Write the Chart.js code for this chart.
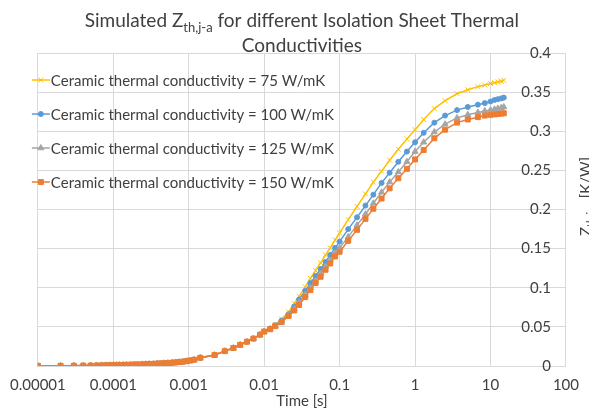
<!DOCTYPE html>
<html>
<head>
<meta charset="utf-8">
<script src="https://cdn.jsdelivr.net/npm/chart.js@4.4.1/dist/chart.umd.min.js"></script>
<style>
  html, body { margin: 0; padding: 0; background: #fff; }
  #wrap { width: 589px; height: 412px; }
</style>
</head>
<body>
<div id="wrap"><canvas id="zthChart" width="589" height="412"></canvas></div>
<script>
// time points up to 10 ms, where all four curves still sit on top of each other
const timeShared = [
  1e-5, 2e-5, 3e-5, 4e-5, 5e-5, 6e-5, 7e-5, 8e-5, 9e-5,
  1e-4, 1.1e-4, 1.2e-4, 1.35e-4, 1.5e-4, 1.7e-4, 1.9e-4, 2.1e-4, 2.4e-4, 2.7e-4,
  3e-4, 3.4e-4, 3.8e-4, 4.2e-4, 4.7e-4, 5.3e-4, 6e-4, 6.7e-4, 7.5e-4, 8.4e-4, 9.4e-4,
  1.05e-3, 1.18e-3, 1.42e-3, 2.2e-3, 3e-3, 3.9e-3, 4.8e-3, 5.9e-3, 7.2e-3, 8.8e-3, 0.01
];
const zthShared = [
  0.0002, 0.0003, 0.0004, 0.0005, 0.0006, 0.0007, 0.0008, 0.0009, 0.0010,
  0.0011, 0.0012, 0.0013, 0.0014, 0.0015, 0.0016, 0.0018, 0.0019, 0.0021, 0.0023,
  0.0025, 0.0027, 0.0030, 0.0032, 0.0035, 0.0038, 0.0042, 0.0046, 0.0050, 0.0055, 0.0062,
  0.0070, 0.0080, 0.0105, 0.014, 0.019, 0.023, 0.027, 0.031, 0.035, 0.040, 0.044
];

// after 10 ms the curves split up by ceramic conductivity
const timeLate = [
  0.012, 0.014, 0.017, 0.021, 0.025, 0.029, 0.035, 0.041, 0.048, 0.056, 0.065, 0.075, 0.087,
  0.1, 0.13, 0.17, 0.22, 0.28, 0.36, 0.46, 0.6, 0.78,
  1, 1.3, 1.8, 2.5, 3.6, 5, 6.8, 8.4, 10, 11.3, 12.5, 13.9, 15
];
const zth75Late = [
  0.048, 0.053, 0.060, 0.069, 0.080, 0.089, 0.101, 0.112, 0.122, 0.132, 0.142, 0.151, 0.161,
  0.170, 0.187, 0.204, 0.220, 0.235, 0.249, 0.263, 0.277, 0.290,
  0.302, 0.315, 0.329, 0.339, 0.348, 0.353, 0.357, 0.359, 0.361, 0.362, 0.363, 0.364, 0.365
];
const zth100Late = [
  0.048, 0.052, 0.058, 0.066, 0.076, 0.085, 0.096, 0.106, 0.115, 0.124, 0.133, 0.142, 0.151,
  0.159, 0.175, 0.190, 0.205, 0.219, 0.234, 0.247, 0.261, 0.274,
  0.286, 0.298, 0.311, 0.320, 0.327, 0.331, 0.334, 0.336, 0.338, 0.340, 0.341, 0.342, 0.343
];
const zth125Late = [
  0.047, 0.051, 0.057, 0.065, 0.073, 0.081, 0.091, 0.100, 0.109, 0.118, 0.127, 0.135, 0.144,
  0.151, 0.165, 0.180, 0.194, 0.208, 0.222, 0.235, 0.248, 0.261,
  0.274, 0.286, 0.299, 0.309, 0.317, 0.321, 0.324, 0.326, 0.327, 0.328, 0.329, 0.330, 0.331
];
const zth150Late = [
  0.047, 0.051, 0.056, 0.064, 0.071, 0.078, 0.088, 0.097, 0.106, 0.114, 0.123, 0.131, 0.140,
  0.146, 0.160, 0.174, 0.188, 0.201, 0.214, 0.227, 0.240, 0.252,
  0.264, 0.276, 0.291, 0.302, 0.311, 0.315, 0.318, 0.320, 0.321, 0.3215, 0.322, 0.3225, 0.323
];

const seriesLabels = [
  'Ceramic thermal conductivity = 75 W/mK',
  'Ceramic thermal conductivity = 100 W/mK',
  'Ceramic thermal conductivity = 125 W/mK',
  'Ceramic thermal conductivity = 150 W/mK'
];

const xTickValues = [1e-5, 1e-4, 1e-3, 1e-2, 1e-1, 1, 10, 100];
const xTickLabels = ['0.00001', '0.0001', '0.001', '0.01', '0.1', '1', '10', '100'];
const yTickValues = [0, 0.05, 0.1, 0.15, 0.2, 0.25, 0.3, 0.35, 0.4];
const yTickLabels = ['0', '0.05', '0.1', '0.15', '0.2', '0.25', '0.3', '0.35', '0.4'];

const FONT = 'Lato, "Noto Sans", sans-serif';
const TEXT = '#404040';
const GRID = '#d9d9d9';

const styles = [
  { color: '#ffc000', marker: 'crossRot', radius: 3.5 },
  { color: '#5b9bd5', marker: 'circle', radius: 2.5 },
  { color: '#a5a5a5', marker: 'triangle', radius: 3.5 },
  { color: '#ed7d31', marker: 'rect', radius: 3.5 }
];

const timeS = timeShared.concat(timeLate);
const zthSeries = [zth75Late, zth100Late, zth125Late, zth150Late].map(late => zthShared.concat(late));

Chart.defaults.font.family = FONT;
Chart.defaults.color = TEXT;

// two-line title with the subscript in Z_th,j-a
const titleBlock = {
  id: 'titleBlock',
  afterDraw(chart) {
    const { ctx, chartArea } = chart;
    const cx = (chartArea.left + chartArea.right) / 2;
    const parts = [
      { text: 'Simulated Z', size: 19, dy: 0 },
      { text: 'th,j-a', size: 13, dy: 5 },
      { text: ' for different Isolation Sheet Thermal', size: 19, dy: 0 }
    ];
    ctx.save();
    ctx.fillStyle = TEXT;
    ctx.textBaseline = 'alphabetic';
    ctx.textAlign = 'left';
    let total = 0;
    parts.forEach(p => {
      ctx.font = `${p.size}px ${FONT}`;
      p.w = ctx.measureText(p.text).width;
      total += p.w;
    });
    let x = cx - total / 2;
    parts.forEach(p => {
      ctx.font = `${p.size}px ${FONT}`;
      ctx.fillText(p.text, x, 27 + p.dy);
      x += p.w;
    });
    ctx.font = `19px ${FONT}`;
    ctx.textAlign = 'center';
    ctx.fillText('Conductivities', cx, 52);
    ctx.restore();
  }
};

// rotated title for the right-hand axis, running off the canvas edge
const zthAxisTitle = {
  id: 'zthAxisTitle',
  afterDraw(chart) {
    const { ctx } = chart;
    ctx.save();
    ctx.translate(591, 236);
    ctx.rotate(-Math.PI / 2);
    ctx.fillStyle = TEXT;
    ctx.textBaseline = 'alphabetic';
    ctx.textAlign = 'left';
    ctx.font = `15px ${FONT}`;
    ctx.fillText('Z', 0, 0);
    let x = ctx.measureText('Z').width;
    ctx.font = `11px ${FONT}`;
    ctx.fillText('th,j-a', x, 4);
    x += ctx.measureText('th,j-a').width;
    ctx.font = `15px ${FONT}`;
    ctx.fillText(' [K/W]', x, 0);
    ctx.restore();
  }
};

// legend sitting inside the plot, top left
const insideLegend = {
  id: 'insideLegend',
  afterDraw(chart) {
    const { ctx, chartArea } = chart;
    const x0 = chartArea.left - 6;
    chart.data.datasets.forEach((ds, i) => {
      const y = chartArea.top + 27 + i * 34;
      ctx.save();
      ctx.strokeStyle = ds.borderColor;
      ctx.fillStyle = ds.borderColor;
      ctx.lineWidth = 1.5;
      ctx.beginPath();
      ctx.moveTo(x0, y);
      ctx.lineTo(x0 + 18, y);
      ctx.stroke();
      ctx.lineWidth = 1;
      Chart.helpers.drawPoint(ctx, { pointStyle: ds.pointStyle, radius: ds.pointRadius, borderWidth: 1, rotation: 0 }, x0 + 9, y);
      ctx.fillStyle = TEXT;
      ctx.font = `15px ${FONT}`;
      ctx.textBaseline = 'middle';
      ctx.textAlign = 'left';
      ctx.fillText(ds.label, x0 + 19, y + 1);
      ctx.restore();
    });
  }
};

new Chart(document.getElementById('zthChart'), {
  type: 'line',
  data: {
    datasets: zthSeries.map((vals, i) => ({
      label: seriesLabels[i],
      data: timeS.map((t, j) => ({ x: t, y: vals[j] })),
      borderColor: styles[i].color,
      backgroundColor: styles[i].color,
      borderWidth: 1.5,
      pointStyle: styles[i].marker,
      pointRadius: styles[i].radius,
      pointBorderWidth: 1,
      tension: 0,
      order: 4 - i
    }))
  },
  options: {
    responsive: false,
    animation: false,
    layout: { padding: { left: 37, top: 53, right: 0, bottom: 0 } },
    plugins: {
      legend: { display: false },
      title: { display: false },
      tooltip: { enabled: false }
    },
    scales: {
      x: {
        type: 'logarithmic',
        min: 1e-5,
        max: 100,
        afterBuildTicks: scale => { scale.ticks = xTickValues.map(v => ({ value: v })); },
        afterFit: scale => { scale.height = 46; },
        ticks: {
          autoSkip: false,
          maxRotation: 0,
          padding: 10,
          font: { size: 15 },
          color: TEXT,
          callback: (v, i) => xTickLabels[i]
        },
        grid: { color: GRID, drawTicks: false },
        border: { color: GRID },
        title: {
          display: true,
          text: 'Time [s]',
          font: { size: 15 },
          color: TEXT,
          padding: { top: 0, bottom: 2 }
        }
      },
      y: {
        type: 'linear',
        position: 'right',
        min: 0,
        max: 0.4,
        afterBuildTicks: scale => { scale.ticks = yTickValues.map(v => ({ value: v })); },
        afterFit: scale => { scale.width = 15; },
        ticks: {
          mirror: true,
          padding: -15,
          font: { size: 15 },
          color: TEXT,
          callback: (v, i) => yTickLabels[i]
        },
        grid: { color: GRID, drawTicks: false },
        border: { display: false }
      }
    }
  },
  plugins: [titleBlock, zthAxisTitle, insideLegend]
});
</script>
</body>
</html>
